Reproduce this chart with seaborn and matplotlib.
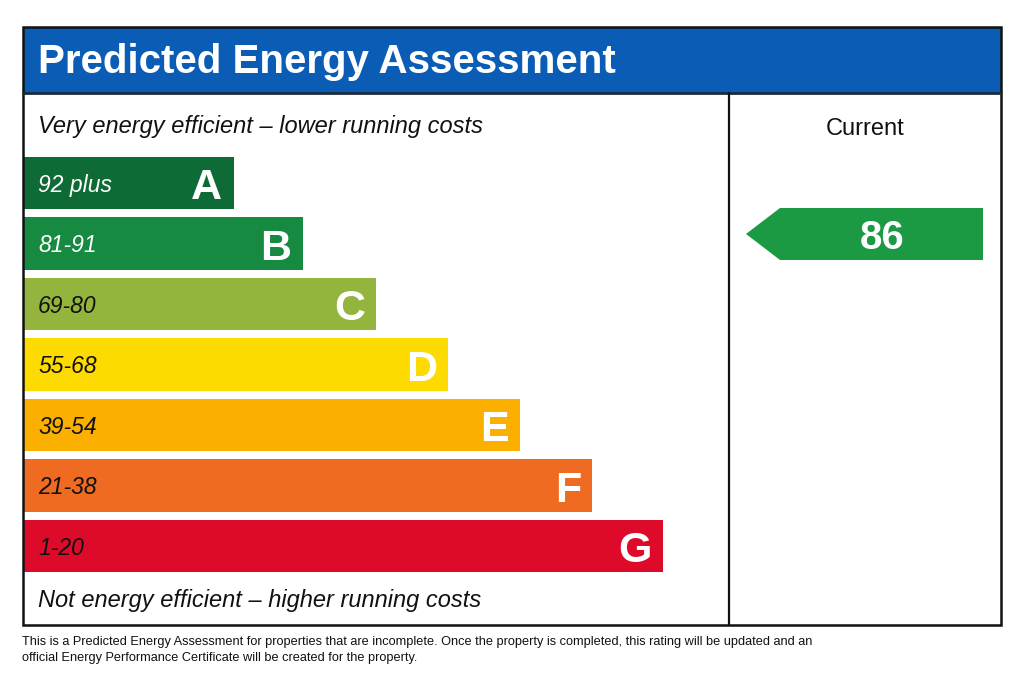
import matplotlib
matplotlib.use('Agg')
import matplotlib.pyplot as plt
import seaborn as sns
from matplotlib.patches import Rectangle, Polygon

# data
bands = ['A', 'B', 'C', 'D', 'E', 'F', 'G']
score_ranges = ['92 plus', '81-91', '69-80', '55-68', '39-54', '21-38', '1-20']
band_lower = [92, 81, 69, 55, 39, 21, 1]
bar_length = [29.7, 39.5, 49.9, 60.1, 70.3, 80.5, 90.5]  # % of the left panel
band_colors = ['#0f6b35', '#158a40', '#94b53d', '#fedb00', '#fbb000', '#ee6b21', '#dd0a2a']
range_text_colors = ['white', 'white', '#111111', '#111111', '#111111', '#111111', '#111111']
current_score = 86
current_color = '#1b9a43'

title = 'Predicted Energy Assessment'
top_note = 'Very energy efficient \u2013 lower running costs'
bottom_note = 'Not energy efficient \u2013 higher running costs'
column_label = 'Current'
footnote = ['This is a Predicted Energy Assessment for properties that are incomplete. '
            'Once the property is completed, this rating will be updated and an',
            'official Energy Performance Certificate will be created for the property.']

sns.set_theme(style='white')
plt.rcParams['font.family'] = ['Liberation Sans', 'DejaVu Sans']

W, H = 1024, 683
fig = plt.figure(figsize=(W / 100, H / 100), dpi=100)
fig.patch.set_facecolor('white')

# bar panel, in its own axes (x = % of panel width, y = band rows)
row_top, row_step = 152.75, 60.5
panel_left, panel_right = 24, 730
ax_bars = fig.add_axes([panel_left / W, 1 - (row_top + 7 * row_step) / H,
                        (panel_right - panel_left) / W, 7 * row_step / H])
sns.barplot(x=bar_length, y=bands, hue=bands, palette=band_colors, legend=False,
            saturation=1, width=0.86, orient='h', ax=ax_bars, linewidth=0)
ax_bars.set_xlim(0, 100)
ax_bars.set_ylim(6.5, -0.5)
ax_bars.axis('off')

for i, (band, rng, length) in enumerate(zip(bands, score_ranges, bar_length)):
    ax_bars.text(2.0, i + 0.04, rng, ha='left', va='center', fontsize=16.5,
                 style='italic', color=range_text_colors[i])
    ax_bars.text(length - 1.6, i + 0.09, band, ha='right', va='center', fontsize=31,
                 fontweight='bold', color='white')

# overlay axes in pixel units for the frame, header and arrow
ax = fig.add_axes([0, 0, 1, 1])
ax.set_xlim(0, W)
ax.set_ylim(H, 0)
ax.axis('off')
ax.patch.set_alpha(0)

ax.add_patch(Rectangle((23, 27), 978, 66, facecolor='#0b5cb5', edgecolor='none'))
ax.plot([23, 1001], [93, 93], color='#1b2a3d', lw=2)
ax.add_patch(Rectangle((23, 27), 978, 598, facecolor='none', edgecolor='#111111', lw=1.8))
ax.plot([729, 729], [93, 625], color='#111111', lw=1.6)

ax.text(38, 62, title, ha='left', va='center', fontsize=29, fontweight='bold',
        color='white')
ax.text(38, 127, top_note, ha='left', va='center', fontsize=17, style='italic', color='#111111')
ax.text(38, 600, bottom_note, ha='left', va='center', fontsize=17, style='italic', color='#111111')
ax.text(865, 129, column_label, ha='center', va='center', fontsize=17, color='#111111')

# current rating arrow, placed on the row of its band
row = next(i for i, lo in enumerate(band_lower) if current_score >= lo)
yc = row_top + (row + 0.5) * row_step - 9.5
half = 26
ax.add_patch(Polygon([(746, yc), (780, yc - half), (983, yc - half),
                      (983, yc + half), (780, yc + half)],
                     closed=True, facecolor=current_color, edgecolor='none'))
ax.text(882, yc + 4, str(current_score), ha='center', va='center', fontsize=29,
        fontweight='bold', color='white')

for k, line in enumerate(footnote):
    ax.text(22, 642 + 16 * k, line, ha='left', va='center', fontsize=9.2, color='#111111')

fig.savefig('out.png', dpi=100, facecolor='white')
